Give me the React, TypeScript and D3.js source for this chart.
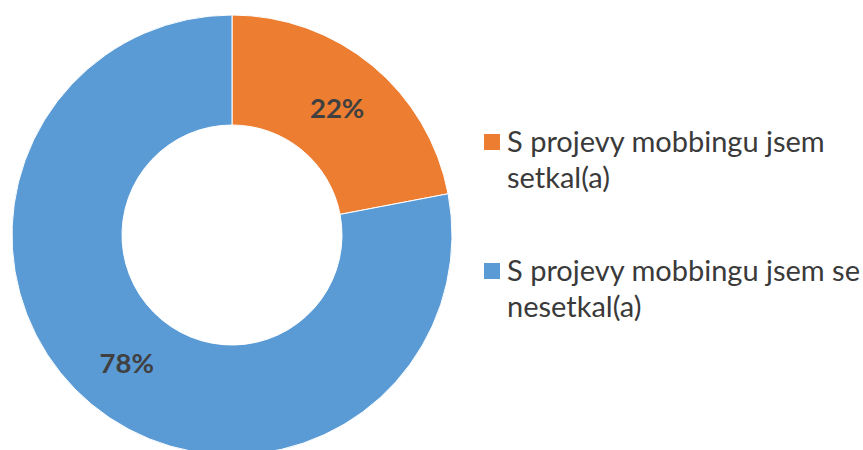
import React from "react";
import * as d3 from "d3";

const categories = ["S projevy mobbingu jsem setkal(a)", "S projevy mobbingu jsem se nesetkal(a)"];
const values = [22, 78];
const colors = ["#ED7D31", "#5B9BD5"];
const legendLines = [
  ["S projevy mobbingu jsem", "setkal(a)"],
  ["S projevy mobbingu jsem se", "nesetkal(a)"],
];

const W = 863;
const H = 450;
const cx = 232;
const cy = 235;
const outerR = 220;
const innerR = 110;
const FONT = "Lato, 'Open Sans', sans-serif";

export default function App() {
  const pie = d3.pie<number>().sort(null).value((d) => d);
  const arcs = pie(values);
  const arc = d3.arc<d3.PieArcDatum<number>>().innerRadius(innerR).outerRadius(outerR);
  const total = d3.sum(values);
  const fmt = (v: number) => `${Math.round((v / total) * 100)}%`;

  const legendX = 484;
  const legendTop = [134, 263];
  const sq = 16;
  const lineGap = 36;

  return (
    <svg
      width={W}
      height={H}
      style={{ position: "absolute", left: 0, top: 0, background: "#fff" }}
    >
      <g transform={`translate(${cx},${cy})`}>
        {arcs.map((a, i) => (
          <path key={i} d={arc(a) || ""} fill={colors[i]} stroke="#fff" strokeWidth={1} />
        ))}
        {arcs.map((a, i) => {
          const [x, y] = arc.centroid(a);
          return (
            <text
              key={"l" + i}
              x={x}
              y={y}
              textAnchor="middle"
              dominantBaseline="central"
              fontFamily={FONT}
              fontWeight="bold"
              fontSize={27.5}
              fill="#404040"
            >
              {fmt(a.data)}
            </text>
          );
        })}
      </g>
      {categories.map((c, i) => (
        <g key={c}>
          <rect x={legendX} y={legendTop[i]} width={sq} height={sq} fill={colors[i]} />
          {legendLines[i].map((ln, j) => (
            <text
              key={j}
              x={legendX + 23}
              y={legendTop[i] + 18 + j * lineGap}
              fontFamily={FONT}
              fontSize={29}
              fill="#3a3a3a"
            >
              {ln}
            </text>
          ))}
        </g>
      ))}
    </svg>
  );
}
